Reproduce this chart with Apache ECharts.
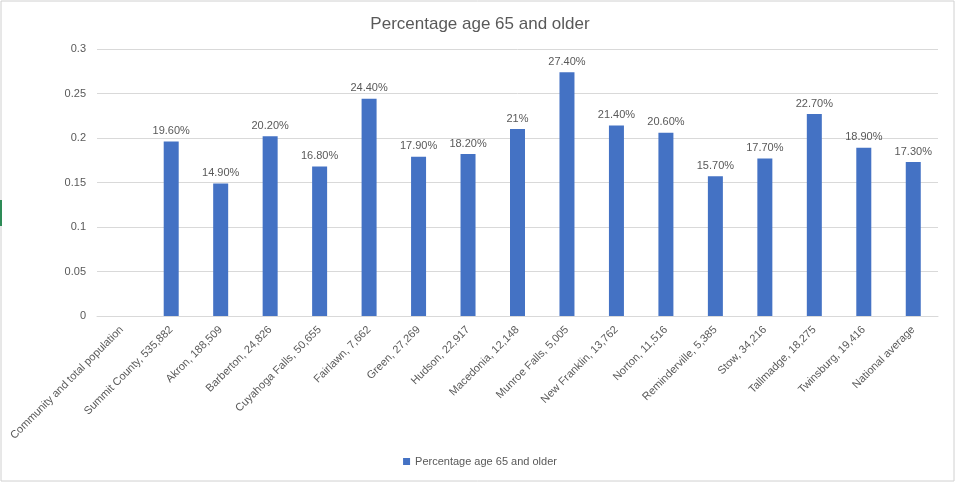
<!DOCTYPE html>
<html><head><meta charset="utf-8">
<script src="https://cdn.jsdelivr.net/npm/echarts@6/dist/echarts.min.js"></script>
<style>html,body{margin:0;padding:0;background:#fff}#c{width:960px;height:483px}</style>
</head><body><div id="c"></div>
<script>
const categories = ["Community and total population","Summit County, 535,882","Akron, 188,509","Barberton, 24,826","Cuyahoga Falls, 50,655","Fairlawn, 7,662","Green, 27,269","Hudson, 22,917","Macedonia, 12,148","Munroe Falls, 5,005","New Franklin, 13,762","Norton, 11,516","Reminderville, 5,385","Stow, 34,216","Tallmadge, 18,275","Twinsburg, 19,416","National average"];
const values = [null,0.196,0.149,0.202,0.168,0.244,0.179,0.182,0.21,0.274,0.214,0.206,0.157,0.177,0.227,0.189,0.173];
const valueLabels = ["","19.60%","14.90%","20.20%","16.80%","24.40%","17.90%","18.20%","21%","27.40%","21.40%","20.60%","15.70%","17.70%","22.70%","18.90%","17.30%"];
const yTicks = [0,0.05,0.1,0.15,0.2,0.25,0.3];
const seriesName = "Percentage age 65 and older";

const font = "Liberation Sans, Arial, sans-serif";
const chart = echarts.init(document.getElementById('c'), null, {renderer:'canvas'});
chart.setOption({
  animation:false,
  title:{text:seriesName,left:'center',top:11,textStyle:{fontFamily:font,fontSize:17,fontWeight:'normal',color:'#595959'}},
  grid:{left:97,right:22,top:49,bottom:167,containLabel:false},
  legend:{bottom:11,left:'center',itemWidth:7,itemHeight:7,itemGap:5,icon:'rect',textStyle:{fontFamily:font,fontSize:11,color:'#595959'},data:[seriesName]},
  xAxis:{type:'category',data:categories,
    axisLine:{lineStyle:{color:'#d9d9d9'}},axisTick:{show:false},
    axisLabel:{rotate:45,interval:0,fontFamily:font,fontSize:11,color:'#595959',margin:12}},
  yAxis:{type:'value',min:0,max:0.3,interval:0.05,
    axisLine:{show:false},axisTick:{show:false},
    splitLine:{lineStyle:{color:'#d9d9d9'}},
    axisLabel:{fontFamily:font,fontSize:11,color:'#595959',margin:11,
      formatter:v=>{const t=yTicks.find(x=>Math.abs(x-v)<1e-9);return t===undefined?'':String(+t.toFixed(2));}}},
  series:[{name:seriesName,type:'bar',data:values,barWidth:15,
    itemStyle:{color:'#4472c4'},
    label:{show:true,position:'top',distance:5,fontFamily:font,fontSize:11,color:'#595959',
      formatter:p=>valueLabels[p.dataIndex]}}],
  graphic:[
    {type:'rect',shape:{x:1,y:1,width:953,height:480},style:{fill:'none',stroke:'#d0d0d0',lineWidth:1},silent:true},
    {type:'rect',shape:{x:0,y:200,width:2,height:26},style:{fill:'#2e8b57'},silent:true}
  ]
});
</script></body></html>
